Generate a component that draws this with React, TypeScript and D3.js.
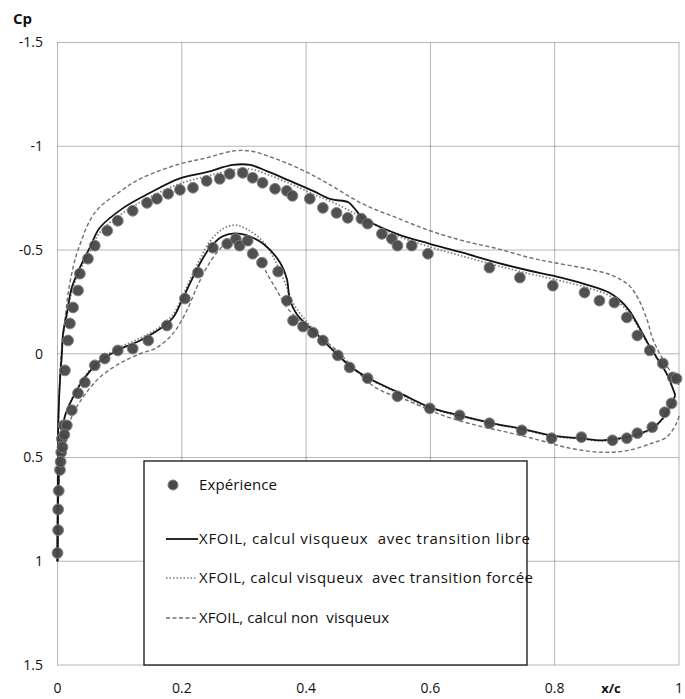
import * as d3 from 'd3';

// axes
const xTicks = [0, 0.2, 0.4, 0.6, 0.8, 1];
const xTickLabels = ['0', '0.2', '0.4', '0.6', '0.8', '1'];
const yTicks = [-1.5, -1, -0.5, 0, 0.5, 1, 1.5];
const yTickLabels = ['-1.5', '-1', '-0.5', '0', '0.5', '1', '1.5'];

// Expérience
const expX = [
  0.0, 0.001, 0.001, 0.002, 0.004, 0.006, 0.007, 0.01, 0.012, 0.017, 0.02, 0.025, 0.033, 0.036, 0.049, 0.06,
  0.08, 0.097, 0.121, 0.144, 0.16, 0.178, 0.197, 0.218, 0.24, 0.261, 0.277, 0.298, 0.314, 0.33, 0.35, 0.369,
  0.378, 0.406, 0.427, 0.449, 0.467, 0.489, 0.499, 0.522, 0.538, 0.547, 0.57, 0.596, 0.695, 0.744, 0.797,
  0.848, 0.872, 0.896, 0.916, 0.933, 0.953, 0.974, 0.99, 0.996,
  0.015, 0.023, 0.033, 0.044, 0.06, 0.076, 0.097, 0.121, 0.146, 0.176, 0.205, 0.226, 0.25, 0.273, 0.287,
  0.293, 0.306, 0.314, 0.329, 0.355, 0.369, 0.379, 0.395, 0.411, 0.427, 0.451, 0.47, 0.499, 0.547, 0.599,
  0.647, 0.695, 0.747, 0.795, 0.843, 0.893, 0.916, 0.933, 0.957, 0.977, 0.988,
  0.008, 0.011, 0.005,
];
const expCp = [
  0.96, 0.85, 0.75, 0.66, 0.56, 0.475, 0.41, 0.345, 0.08, -0.064, -0.146, -0.223, -0.305, -0.386, -0.458, -0.521,
  -0.593, -0.641, -0.689, -0.727, -0.747, -0.771, -0.79, -0.8, -0.833, -0.843, -0.867, -0.872, -0.848, -0.824, -0.795, -0.785,
  -0.761, -0.747, -0.703, -0.679, -0.655, -0.651, -0.627, -0.578, -0.554, -0.521, -0.521, -0.482, -0.415, -0.367, -0.328,
  -0.295, -0.256, -0.247, -0.175, -0.088, -0.016, 0.047, 0.114, 0.12,
  0.345, 0.272, 0.19, 0.138, 0.056, 0.023, -0.016, -0.025, -0.064, -0.136, -0.266, -0.391, -0.511, -0.53, -0.553,
  -0.521, -0.545, -0.482, -0.439, -0.396, -0.256, -0.16, -0.131, -0.102, -0.064, 0.008, 0.066, 0.118, 0.205, 0.263,
  0.297, 0.335, 0.369, 0.407, 0.402, 0.417, 0.407, 0.383, 0.354, 0.282, 0.239,
  0.45, 0.39, 0.52,
];

// XFOIL, visqueux, transition libre
const freeUpperX = [
  0, 0.0005, 0.001, 0.002, 0.004, 0.007, 0.009, 0.015, 0.023, 0.036, 0.052, 0.068, 0.106, 0.149, 0.197, 0.24,
  0.282, 0.31, 0.337, 0.374, 0.411, 0.44, 0.468, 0.478, 0.491, 0.546, 0.599, 0.652, 0.707, 0.76, 0.797, 0.851,
  0.888, 0.904, 0.92, 0.936, 0.95, 0.964, 0.98, 0.994,
];
const freeUpperCp = [
  1.0, 0.6, 0.37, 0.258, 0.128, 0, -0.098, -0.194, -0.319, -0.415, -0.511, -0.607, -0.703, -0.776, -0.845, -0.875,
  -0.91, -0.91, -0.88, -0.833, -0.785, -0.745, -0.73, -0.7, -0.656, -0.578, -0.53, -0.487, -0.439, -0.4, -0.376, -0.333,
  -0.294, -0.26, -0.208, -0.127, -0.05, 0.018, 0.095, 0.2,
];
const freeLowerX = [
  0, 0.002, 0.006, 0.012, 0.025, 0.041, 0.064, 0.096, 0.133, 0.165, 0.186, 0.2, 0.213, 0.229, 0.245, 0.265,
  0.285, 0.305, 0.331, 0.358, 0.369, 0.374, 0.385, 0.411, 0.449, 0.475, 0.507, 0.551, 0.599, 0.647, 0.7, 0.744,
  0.797, 0.84, 0.877, 0.915, 0.957, 0.98, 0.994,
];
const freeLowerCp = [
  1.0, 0.6, 0.42, 0.3, 0.21, 0.128, 0.047, -0.016, -0.064, -0.12, -0.175, -0.256, -0.338, -0.434, -0.51, -0.565,
  -0.58, -0.57, -0.53, -0.44, -0.36, -0.26, -0.19, -0.112, 0, 0.07, 0.128, 0.19, 0.258, 0.297, 0.335, 0.36,
  0.395, 0.407, 0.417, 0.402, 0.359, 0.287, 0.2,
];

// XFOIL, visqueux, transition forcée
const forcedUpperX = [
  0, 0.0005, 0.001, 0.002, 0.004, 0.007, 0.009, 0.015, 0.023, 0.036, 0.052, 0.068, 0.106, 0.149, 0.197, 0.24,
  0.282, 0.31, 0.337, 0.374, 0.411, 0.45, 0.491, 0.546, 0.599, 0.652, 0.707, 0.76, 0.797, 0.851, 0.888, 0.904,
  0.92, 0.936, 0.95, 0.964, 0.98, 0.994,
];
const forcedUpperCp = [
  1.0, 0.6, 0.37, 0.26, 0.13, 0.01, -0.09, -0.18, -0.3, -0.4, -0.49, -0.585, -0.68, -0.755, -0.82, -0.855,
  -0.885, -0.89, -0.865, -0.82, -0.77, -0.72, -0.655, -0.57, -0.515, -0.47, -0.425, -0.385, -0.36, -0.32, -0.28, -0.245,
  -0.195, -0.12, -0.045, 0.02, 0.095, 0.2,
];
const forcedLowerX = [
  0, 0.002, 0.006, 0.012, 0.025, 0.041, 0.064, 0.096, 0.133, 0.165, 0.186, 0.2, 0.213, 0.229, 0.245, 0.265,
  0.285, 0.305, 0.331, 0.35, 0.365, 0.38, 0.411, 0.449, 0.475, 0.507, 0.551, 0.599, 0.647, 0.7, 0.744, 0.797,
  0.84, 0.877, 0.915, 0.957, 0.98, 0.994,
];
const forcedLowerCp = [
  1.0, 0.6, 0.42, 0.3, 0.205, 0.12, 0.04, -0.025, -0.075, -0.13, -0.19, -0.27, -0.355, -0.455, -0.54, -0.6,
  -0.62, -0.6, -0.54, -0.45, -0.35, -0.24, -0.12, 0, 0.07, 0.13, 0.195, 0.262, 0.3, 0.338, 0.362, 0.398,
  0.41, 0.42, 0.405, 0.362, 0.29, 0.2,
];

// XFOIL, non visqueux
const invUpperX = [
  0, 0.001, 0.004, 0.007, 0.012, 0.017, 0.025, 0.033, 0.06, 0.1, 0.133, 0.197, 0.24, 0.282, 0.31, 0.347,
  0.39, 0.433, 0.491, 0.546, 0.599, 0.652, 0.707, 0.76, 0.797, 0.851, 0.893, 0.92, 0.936, 0.949, 0.957, 0.969,
  0.982, 0.996, 1.0,
];
const invUpperCp = [
  1.0, 0.4, 0.095, -0.03, -0.16, -0.29, -0.415, -0.5, -0.68, -0.78, -0.843, -0.915, -0.944, -0.977, -0.977, -0.944,
  -0.891, -0.824, -0.722, -0.655, -0.593, -0.545, -0.507, -0.463, -0.44, -0.41, -0.377, -0.328, -0.256, -0.16, -0.078, 0,
  0.066, 0.128, 0.15,
];
const invLowerX = [
  0, 0.003, 0.012, 0.025, 0.041, 0.068, 0.1, 0.133, 0.16, 0.186, 0.208, 0.224, 0.24, 0.26, 0.28, 0.3,
  0.32, 0.337, 0.353, 0.369, 0.39, 0.449, 0.48, 0.514, 0.562, 0.62, 0.674, 0.723, 0.776, 0.824, 0.877, 0.92,
  0.957, 0.98, 0.996, 1.0,
];
const invLowerCp = [
  1.0, 0.6, 0.4, 0.29, 0.21, 0.114, 0.047, 0, -0.03, -0.098, -0.208, -0.319, -0.415, -0.5, -0.55, -0.54,
  -0.49, -0.387, -0.305, -0.223, -0.16, -0.016, 0.08, 0.167, 0.224, 0.297, 0.345, 0.378, 0.417, 0.455, 0.475, 0.465,
  0.43, 0.402, 0.335, 0.3,
];

const legendLabels = [
  'Expérience',
  'XFOIL, calcul visqueux  avec transition libre',
  'XFOIL, calcul visqueux  avec transition forcée',
  'XFOIL, calcul non  visqueux',
];
// text run lengths as measured on the scan
const legendWidths = [78, 331, 334, 190];

const W = 685;
const H = 699;
const font = '"Open Sans", "Noto Sans", sans-serif';

export default function App() {
  const x = d3.scaleLinear().domain([0, 1]).range([57.5, 679]);
  const y = d3.scaleLinear().domain([-1.5, 1.5]).range([42.5, 665]);

  const line = d3
    .line<[number, number]>()
    .x((d) => x(d[0]))
    .y((d) => y(d[1]))
    .curve(d3.curveCatmullRom.alpha(0.5));

  const toPts = (xs: number[], ys: number[]) => xs.map((v, i) => [v, ys[i]] as [number, number]);

  const series = [
    { xs: invUpperX, ys: invUpperCp, stroke: '#707070', width: 1.4, dash: '4 2.5' },
    { xs: invLowerX, ys: invLowerCp, stroke: '#707070', width: 1.4, dash: '4 2.5' },
    { xs: forcedUpperX, ys: forcedUpperCp, stroke: '#7c7c7c', width: 1.7, dash: '1.5 2' },
    { xs: forcedLowerX, ys: forcedLowerCp, stroke: '#7c7c7c', width: 1.7, dash: '1.5 2' },
  ];
  const solid = [
    { xs: freeUpperX, ys: freeUpperCp },
    { xs: freeLowerX, ys: freeLowerCp },
  ];

  const [x0, x1] = x.range();
  const [y0, y1] = y.range();

  // legend box
  const lg = { left: 144, top: 461, right: 527, bottom: 665 };
  const rowY = [485, 539, 578, 618];

  return (
    <svg width={W} height={H} style={{ position: 'absolute', left: 0, top: 0, background: '#fff' }}>
      <rect x={0} y={0} width={W} height={H} fill="#fff" />
      {/* grid */}
      {xTicks.map((t) => (
        <line key={'gx' + t} x1={x(t)} x2={x(t)} y1={y0} y2={y1} stroke="#6e6e6e" strokeWidth={1} strokeDasharray="1 1" />
      ))}
      {yTicks.map((t) => (
        <line key={'gy' + t} x1={x0} x2={x1} y1={y(t)} y2={y(t)} stroke="#6e6e6e" strokeWidth={1} strokeDasharray="1 1" />
      ))}

      {/* legend box sits over grid */}
      <rect
        x={lg.left}
        y={lg.top}
        width={lg.right - lg.left}
        height={lg.bottom - lg.top}
        fill="#fff"
        stroke="#111"
        strokeWidth={1.3}
      />

      {/* model curves */}
      {series.map((s, i) => (
        <path
          key={'s' + i}
          d={line(toPts(s.xs, s.ys)) ?? ''}
          fill="none"
          stroke={s.stroke}
          strokeWidth={s.width}
          strokeDasharray={s.dash}
        />
      ))}
      {solid.map((s, i) => (
        <path key={'f' + i} d={line(toPts(s.xs, s.ys)) ?? ''} fill="none" stroke="#141414" strokeWidth={1.8} />
      ))}

      {/* experiment */}
      {expX.map((v, i) => (
        <circle key={'e' + i} cx={x(v)} cy={y(expCp[i])} r={5.4} fill="#474747" stroke="#808080" strokeWidth={1} opacity={0.95} />
      ))}

      {/* tick labels */}
      {yTicks.map((t, i) => (
        <text key={'ty' + t} x={43} y={y(t)} dy="0.35em" textAnchor="end" fontFamily={font} fontSize={14} fill="#111">
          {yTickLabels[i]}
        </text>
      ))}
      {xTicks.map((t, i) => (
        <text key={'tx' + t} x={x(t)} y={693} textAnchor="middle" fontFamily={font} fontSize={14} fill="#111">
          {xTickLabels[i]}
        </text>
      ))}
      <text x={13} y={24} fontFamily={font} fontSize={15} fontWeight="bold" fill="#111">
        Cp
      </text>
      <text x={611} y={693} textAnchor="middle" fontFamily={font} fontSize={13} fontWeight="bold" fill="#111">
        x/c
      </text>

      {/* legend entries */}
      <circle cx={173} cy={rowY[0]} r={5} fill="#474747" stroke="#808080" strokeWidth={1} />
      <line x1={166} x2={198} y1={rowY[1]} y2={rowY[1]} stroke="#141414" strokeWidth={1.8} />
      <line x1={166} x2={197} y1={rowY[2]} y2={rowY[2]} stroke="#7c7c7c" strokeWidth={1.7} strokeDasharray="1.5 2" />
      <line x1={166} x2={197} y1={rowY[3]} y2={rowY[3]} stroke="#707070" strokeWidth={1.4} strokeDasharray="4 2.5" />
      {legendLabels.map((l, i) => (
        <text
          key={'l' + i}
          x={199}
          y={rowY[i]}
          dy="0.35em"
          fontFamily={font}
          fontSize={15}
          fill="#111"
          textLength={legendWidths[i]}
          lengthAdjust="spacing"
          style={{ whiteSpace: 'pre' }}
        >
          {l}
        </text>
      ))}
    </svg>
  );
}
